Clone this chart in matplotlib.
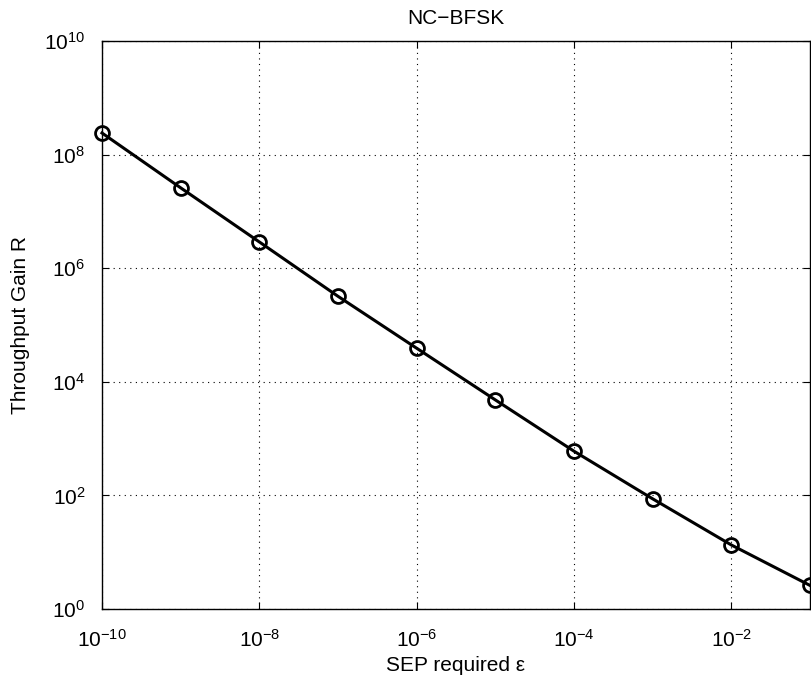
import matplotlib
matplotlib.use("Agg")
import matplotlib.pyplot as plt
import numpy as np
from matplotlib.ticker import NullLocator

sep_required = [1e-10, 1e-9, 1e-8, 1e-7, 1e-6, 1e-5, 1e-4, 1e-3, 1e-2, 1e-1]
throughput_gain = [2.4e8, 2.6e7, 2.9e6, 3.2e5, 3.9e4, 4.8e3, 6.0e2, 87, 13.4, 2.6]

x_ticks = [1e-10, 1e-8, 1e-6, 1e-4, 1e-2]
y_ticks = [1e0, 1e2, 1e4, 1e6, 1e8, 1e10]

plt.rcParams['font.family'] = ['Liberation Sans', 'DejaVu Sans']
plt.rcParams['mathtext.fontset'] = 'custom'
plt.rcParams['mathtext.rm'] = 'Liberation Sans'
plt.rcParams['mathtext.it'] = 'Liberation Sans'

fig = plt.figure(figsize=(8.11, 6.78), dpi=100)
ax = fig.add_axes([102/811, 1 - 609/678, (810 - 102)/811, (609 - 41)/678])

ax.plot(sep_required, throughput_gain, color='black', lw=2.2, marker='o',
        markersize=10, markerfacecolor='none', markeredgewidth=2.0,
        markeredgecolor='black', clip_on=False, zorder=3)

ax.set_xscale('log')
ax.set_yscale('log')
ax.set_xlim(1e-10, 1e-1)
ax.set_ylim(1e0, 1e10)
ax.set_xticks(x_ticks)
ax.set_yticks(y_ticks)
ax.xaxis.set_minor_locator(NullLocator())
ax.yaxis.set_minor_locator(NullLocator())

ax.grid(True, which='major', linestyle=(0, (1, 4)), color='black', lw=0.8)
ax.tick_params(which='major', direction='in', length=5, width=0.8,
               top=True, right=True, labelsize=15, colors='black')
ax.tick_params(axis='x', pad=14)
ax.tick_params(axis='y', pad=12)
for s in ax.spines.values():
    s.set_linewidth(1.0)
    s.set_color('black')

ax.set_title('NC\u2212BFSK', fontsize=15, pad=12)
ax.set_xlabel('SEP required \u03b5', fontsize=15, labelpad=4)
ax.set_ylabel('Throughput Gain R', fontsize=15, labelpad=10)

fig.savefig('out.png', dpi=100)
